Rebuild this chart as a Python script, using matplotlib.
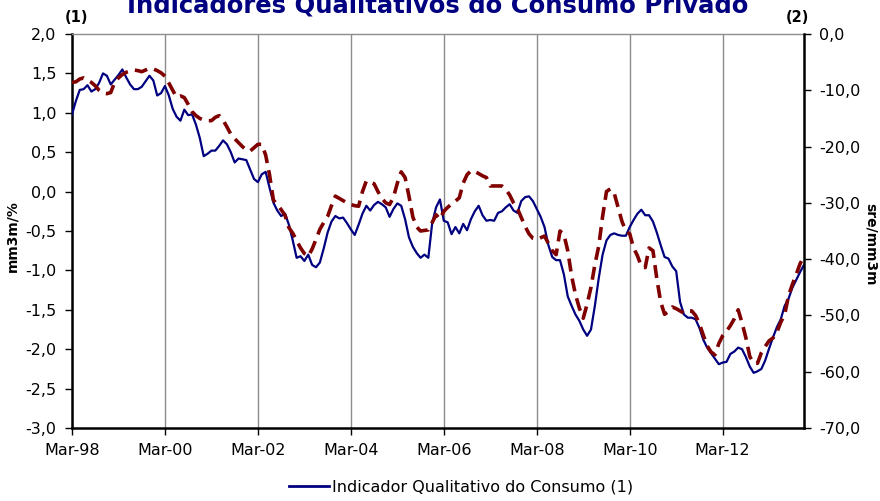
import matplotlib
matplotlib.use("Agg")
import numpy as np
import matplotlib.pyplot as plt
from matplotlib.lines import Line2D

# Dados mensais desde Mar-98
meses = np.arange(190)
tick_pos = np.arange(0, 190, 24)
tick_labels = ["Mar-98", "Mar-00", "Mar-02", "Mar-04", "Mar-06", "Mar-08", "Mar-10", "Mar-12"]

# Indicador Qualitativo do Consumo (1) - mm3m/%
iqc = [0.98, 1.15, 1.29, 1.30, 1.35, 1.27, 1.30, 1.38, 1.50, 1.47,
       1.36, 1.42, 1.48, 1.55, 1.45, 1.36, 1.30, 1.30, 1.33, 1.40,
       1.47, 1.41, 1.22, 1.25, 1.34, 1.22, 1.05, 0.95, 0.90, 1.04,
       0.97, 0.98, 0.85, 0.68, 0.45, 0.48, 0.52, 0.52, 0.58, 0.65,
       0.60, 0.50, 0.37, 0.42, 0.41, 0.40, 0.28, 0.16, 0.12, 0.22,
       0.25, 0.05, -0.14, -0.24, -0.31, -0.28, -0.42, -0.62, -0.84, -0.82,
       -0.88, -0.80, -0.93, -0.96, -0.90, -0.72, -0.52, -0.38, -0.31, -0.34,
       -0.33, -0.40, -0.48, -0.55, -0.42, -0.28, -0.18, -0.24, -0.17, -0.13,
       -0.16, -0.20, -0.32, -0.22, -0.15, -0.18, -0.35, -0.58, -0.70, -0.78,
       -0.84, -0.80, -0.84, -0.40, -0.20, -0.10, -0.37, -0.39, -0.54, -0.45,
       -0.53, -0.41, -0.49, -0.35, -0.25, -0.18, -0.30, -0.37, -0.36, -0.37,
       -0.27, -0.25, -0.20, -0.16, -0.24, -0.27, -0.12, -0.07, -0.06, -0.12,
       -0.22, -0.32, -0.45, -0.68, -0.83, -0.87, -0.87, -1.05, -1.33, -1.45,
       -1.56, -1.64, -1.75, -1.83, -1.75, -1.45, -1.10, -0.80, -0.62, -0.55,
       -0.53, -0.55, -0.56, -0.56, -0.45, -0.36, -0.28, -0.23, -0.30, -0.30,
       -0.38, -0.52, -0.68, -0.83, -0.85, -0.95, -1.01, -1.40, -1.56, -1.60,
       -1.60, -1.62, -1.73, -1.88, -1.98, -2.05, -2.12, -2.19, -2.17, -2.16,
       -2.06, -2.03, -1.98, -2.00, -2.10, -2.22, -2.30, -2.28, -2.25, -2.14,
       -1.99, -1.85, -1.72, -1.62, -1.45, -1.36, -1.22, -1.12, -1.02, -0.93]

# Serie (2) - sre/mm3m
serie2 = [-8.6, -8.5, -8.0, -7.8, -8.2, -8.6, -9.2, -10.0, -10.5, -10.6,
          -10.4, -8.6, -7.8, -7.2, -6.8, -6.6, -6.4, -6.5, -6.7, -6.4,
          -6.1, -6.2, -6.5, -6.9, -7.5, -8.7, -10.0, -11.2, -11.0, -11.3,
          -12.5, -13.8, -14.5, -15.0, -15.3, -15.4, -15.4, -14.8, -14.5, -15.3,
          -16.5, -17.8, -18.6, -19.3, -20.0, -20.6, -20.8, -20.2, -19.6, -19.6,
          -21.5, -25.0, -29.5, -30.3, -31.2, -32.2, -34.4, -35.4, -36.7, -38.0,
          -39.0, -39.5, -38.2, -36.5, -34.7, -33.5, -32.4, -30.5, -28.8, -29.2,
          -29.6, -30.0, -30.3, -30.5, -30.6, -28.0, -26.1, -26.3, -26.6, -28.0,
          -29.2, -30.0, -30.3, -29.0, -26.5, -24.5, -25.5, -28.8, -32.5, -34.3,
          -35.0, -34.9, -34.8, -33.5, -32.1, -32.9, -31.5, -30.8, -30.2, -29.7,
          -29.1, -26.5, -25.0, -24.3, -24.4, -24.8, -25.2, -25.5, -27.0, -27.0,
          -27.0, -27.0, -27.6, -28.6, -30.0, -31.0, -32.6, -34.2, -35.5, -36.3,
          -36.5, -36.2, -35.9, -37.2, -38.5, -39.2, -35.0, -35.6, -38.5, -43.0,
          -46.3, -48.7, -50.5, -48.0, -45.0, -41.0, -37.7, -32.4, -28.0, -27.5,
          -28.3, -30.8, -33.3, -35.0, -35.5, -38.0, -39.4, -41.3, -41.5, -38.0,
          -38.5, -43.5, -47.6, -49.8, -49.3, -48.5, -48.8, -49.2, -49.6, -49.2,
          -49.2, -50.0, -51.5, -53.5, -55.4, -56.5, -57.0, -55.0, -53.6, -52.8,
          -51.8, -50.6, -49.0, -51.3, -54.0, -57.3, -58.5, -58.5, -56.6, -55.5,
          -54.5, -54.0, -53.0, -51.2, -49.9, -46.5, -44.5, -42.7, -40.8, -39.5]

plt.rcParams['font.family'] = ['DejaVu Sans']
fs = 11.5

fig = plt.figure(figsize=(8.8, 5.01), dpi=100)
ax1 = fig.add_axes([72 / 880, 1 - 428 / 501, (804 - 72) / 880, (428 - 34) / 501])
ax2 = ax1.twinx()

ax1.plot(meses, iqc, color='#000080', lw=1.6, zorder=3)
ax2.plot(meses, serie2, color='#800000', lw=2.6, dashes=(3.6, 2.0), zorder=2)

ax1.set_xlim(0, 189)
ax1.set_ylim(-3.0, 2.0)
ax2.set_ylim(-70, 0)
ax1.set_yticks(np.arange(-3.0, 2.01, 0.5))
ax1.set_yticklabels([f"{v:.1f}".replace('.', ',') for v in np.arange(-3.0, 2.01, 0.5)], fontsize=fs)
ax2.set_yticks(np.arange(-70, 1, 10))
ax2.set_yticklabels([f"{v:.1f}".replace('.', ',') for v in np.arange(-70, 1, 10)], fontsize=fs)
ax1.set_xticks(tick_pos)
ax1.set_xticklabels(tick_labels, fontsize=fs)
ax1.xaxis.grid(True, color='#8c8c8c', lw=1)
ax1.set_axisbelow(True)

for a in (ax1, ax2):
    for s in ('left', 'right', 'bottom'):
        a.spines[s].set_linewidth(1.8)
ax2.spines['left'].set_visible(False)
ax2.spines['bottom'].set_visible(False)
ax2.spines['top'].set_visible(False)
ax1.spines['right'].set_visible(False)
ax1.spines['top'].set_color('#8c8c8c')
ax1.spines['top'].set_linewidth(1)
ax1.tick_params(axis='y', direction='out', length=5, width=1, pad=6)
ax1.tick_params(axis='x', direction='out', length=5, width=1, pad=6)
ax2.tick_params(axis='y', direction='out', length=5, width=1, pad=6)

ax1.set_ylabel("mm3m/%", fontsize=10, fontweight='bold')
ax1.yaxis.set_label_coords(-0.072, 0.486)
ax2.set_ylabel("sre/mm3m", fontsize=10, fontweight='bold', rotation=270, va='center')
ax2.yaxis.set_label_coords(1.0915, 0.466)

fig.text(0.497, 1 - 13 / 501, "Indicadores Qualitativos do Consumo Privado", ha='center', va='baseline',
         fontsize=17.5, fontweight='bold', color='#000080')
fig.text(76 / 880, 1 - 17 / 501, "(1)", ha='center', va='center', fontsize=10.5, fontweight='bold')
fig.text(797 / 880, 1 - 17 / 501, "(2)", ha='center', va='center', fontsize=10.5, fontweight='bold')

handle = Line2D([], [], color='#000080', lw=2)
fig.legend([handle], ["Indicador Qualitativo do Consumo (1)"], loc='center',
           bbox_to_anchor=(461 / 880, 1 - 487 / 501), frameon=False, fontsize=fs,
           handlelength=2.5, handletextpad=0.2)

fig.savefig("out.png", dpi=100)
